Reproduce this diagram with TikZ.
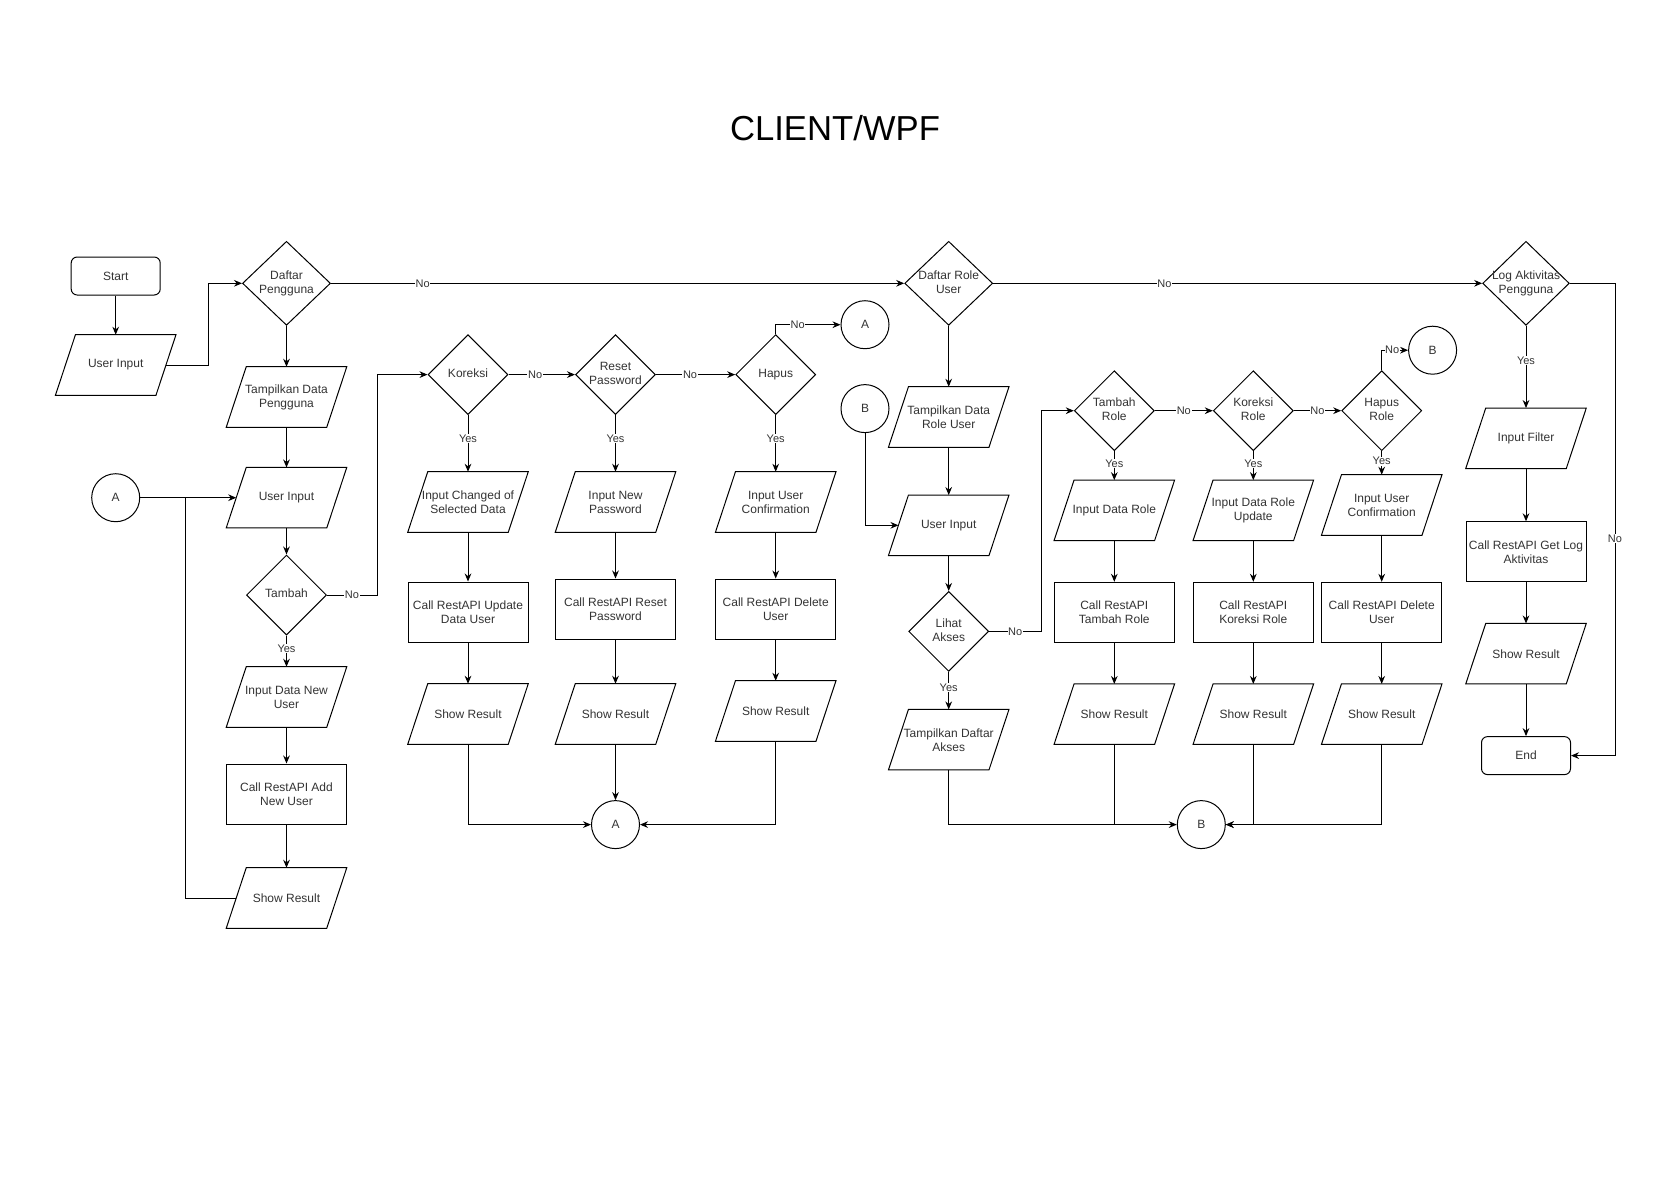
\documentclass[tikz,border=0pt]{standalone}
\usepackage{fontspec}
\setmainfont{Liberation Sans}
\usetikzlibrary{arrows.meta,shapes.geometric}
\definecolor{txtgray}{HTML}{333333}
\newcommand{\boxfont}{\fontsize{9}{10.5}\selectfont}
\newcommand{\edgefont}{\fontsize{8.25}{9.5}\selectfont}
\newcommand{\dtxt}[1]{\makebox[0pt]{\begin{tabular}{@{}c@{}}#1\end{tabular}}}

\begin{document}
\begin{tikzpicture}[x=0.75pt, y=-0.75pt,
    base/.style={draw, line width=0.75pt, font=\boxfont, text=txtgray, inner sep=2pt},
    term/.style={base, rectangle, rounded corners=4.5pt, minimum width=66.75pt, minimum height=28.5pt},
    io/.style={font=\boxfont, text=txtgray, inner sep=2pt, rectangle, align=center,
        minimum width=75pt, minimum height=45pt,
        append after command={\pgfextra{\draw[line width=0.75pt]
            ([xshift=7.5pt]\tikzlastnode.north west) -- ([xshift=7.5pt]\tikzlastnode.north east)
            -- ([xshift=-7.5pt]\tikzlastnode.south east) -- ([xshift=-7.5pt]\tikzlastnode.south west) -- cycle;}}},
    proc/.style={base, rectangle, minimum width=90pt, minimum height=45pt, align=center},
    decide/.style={base, diamond, inner sep=0pt, minimum width=60pt, minimum height=60pt},
    conn/.style={base, circle, inner sep=0pt, minimum size=36pt},
    arr/.style={line width=0.75pt, -{Stealth[length=6pt,width=5pt]}},
    wire/.style={line width=0.75pt},
    lbl/.style={fill=white, font=\edgefont, text=txtgray, inner sep=0.5pt}]
    \useasboundingbox (0,0) rectangle (1664,1179);

    % judul
    \node[font=\fontsize{26}{30}\selectfont] (judul) at (835,128) {CLIENT/WPF};

    % daftar pengguna
    \node[term] (start) at (115.7,276) {Start};
    \node[io] (ui1) at (115.7,365) {User Input};
    \node[decide, minimum width=66pt, minimum height=63pt] (dp) at (286.5,283.3) {\dtxt{Daftar\\Pengguna}};
    \node[io] (tdp) at (286.5,397) {Tampilkan Data\\Pengguna};
    \node[io] (ui2) at (286.5,497.7) {User Input};
    \node[decide] (tmb) at (286.5,595) {\dtxt{Tambah}};
    \node[io] (idnu) at (286.5,697) {Input Data New\\User};
    \node[proc] (cadd) at (286.5,794) {Call RestAPI Add\\New User};
    \node[io] (sr1) at (286.5,898) {Show Result};
    \node[conn] (aL) at (115.7,497.7) {A};
    \coordinate (jA) at (185.7,497.7);

    \node[decide] (kor) at (468,374.6) {\dtxt{Koreksi}};
    \node[decide] (rp) at (615.5,374.6) {\dtxt{Reset\\Password}};
    \node[decide] (hap) at (775.7,374.6) {\dtxt{Hapus}};
    \node[io] (ics) at (468,502) {Input Changed of\\Selected Data};
    \node[io] (inp) at (615.5,502) {Input New\\Password};
    \node[io] (iuc) at (775.7,502) {Input User\\Confirmation};
    \node[proc] (cu) at (468,612) {Call RestAPI Update\\Data User};
    \node[proc] (crp) at (615.5,609) {Call RestAPI Reset\\Password};
    \node[proc] (cdu) at (775.7,609) {Call RestAPI Delete\\User};
    \node[io] (srk) at (468,714) {Show Result};
    \node[io] (srr) at (615.5,714) {Show Result};
    \node[io] (srh) at (775.7,711) {Show Result};
    \node[conn] (aB) at (615.5,824.6) {A};
    \node[conn] (aT) at (865,324.7) {A};

    % daftar role user
    \node[decide, minimum width=66pt, minimum height=63pt] (dru) at (948.7,283.3) {\dtxt{Daftar Role\\User}};
    \node[io] (tdr) at (948.7,417) {Tampilkan Data\\Role User};
    \node[io] (ui3) at (948.7,525.3) {User Input};
    \node[decide] (lih) at (948.7,631.4) {\dtxt{Lihat\\Akses}};
    \node[io] (tda) at (948.7,739.7) {Tampilkan Daftar\\Akses};
    \node[conn] (bT) at (865,408.6) {B};

    \node[decide] (tr) at (1114.3,410.7) {\dtxt{Tambah\\Role}};
    \node[decide] (kr) at (1253.3,410.7) {\dtxt{Koreksi\\Role}};
    \node[decide] (hr) at (1381.7,410.7) {\dtxt{Hapus\\Role}};
    \node[io] (idr) at (1114.3,510.4) {Input Data Role};
    \node[io] (idru) at (1253.3,510.4) {Input Data Role\\Update};
    \node[io] (iuc2) at (1381.7,505) {Input User\\Confirmation};
    \node[proc] (ctr) at (1114.3,612.3) {Call RestAPI\\Tambah Role};
    \node[proc] (ckr) at (1253.3,612.3) {Call RestAPI\\Koreksi Role};
    \node[proc] (cdr) at (1381.7,612.3) {Call RestAPI Delete\\User};
    \node[io] (srtr) at (1114.3,714.2) {Show Result};
    \node[io] (srkr) at (1253.3,714.2) {Show Result};
    \node[io] (srhr) at (1381.7,714.2) {Show Result};
    \node[conn] (bB) at (1201.3,824.6) {B};
    \node[conn] (bR) at (1432.6,350.2) {B};

    % log aktivitas
    \node[decide, minimum width=65pt, minimum height=63pt] (log) at (1526,283.3) {\dtxt{Log Aktivitas\\Pengguna}};
    \node[io] (ifl) at (1526,438.3) {Input Filter};
    \node[proc] (cgl) at (1526,551.8) {Call RestAPI Get Log\\Aktivitas};
    \node[io] (srl) at (1526,653.7) {Show Result};
    \node[term] (fin) at (1526,755.6) {End};
    \coordinate (nolog) at (1615,755.6);

    % panah lurus
    \foreach \a/\b in {start/ui1, dp/tdp, tdp/ui2, ui2/tmb, idnu/cadd, cadd/sr1,
        ics/cu, cu/srk, inp/crp, crp/srr, iuc/cdu, cdu/srh,
        dru/tdr, tdr/ui3, ui3/lih, idr/ctr, ctr/srtr, idru/ckr, ckr/srkr,
        iuc2/cdr, cdr/srhr, ifl/cgl, cgl/srl, srl/fin}
        \draw[arr] (\a.south) -- (\b.north);
    % cabang Yes
    \foreach \a/\b in {tmb/idnu, kor/ics, rp/inp, hap/iuc, lih/tda, tr/idr, kr/idru, hr/iuc2, log/ifl}
        \draw[arr] (\a.south) -- node[lbl, pos=.42]{Yes} (\b.north);

    % cabang No
    \draw[arr] (ui1.east) -- ++(43,0) |- (dp.west);
    \draw[arr] (dp.east) -- node[lbl, pos=.16]{No} (dru.west);
    \draw[arr] (dru.east) -- node[lbl, pos=.35]{No} (log.west);
    \draw[arr] (log.east) -| node[lbl, pos=.77]{No} (nolog) -- (fin.east);

    \draw[arr] (aL.east) -- (ui2.west);
    \draw[wire] (sr1.west) -| (jA);
    \draw[arr] (tmb.east) -- node[lbl]{No} ++(50,0) |- (kor.west);
    \draw[arr] (kor.east) -- node[lbl, pos=.4]{No} (rp.west);
    \draw[arr] (rp.east) -- node[lbl, pos=.43]{No} (hap.west);
    \draw[arr] (hap.north) |- node[lbl, pos=.67]{No} (aT.west);
    \draw[arr] (srk.south) |- (aB.west);
    \draw[arr] (srr.south) -- (aB.north);
    \draw[arr] (srh.south) |- (aB.east);

    \draw[arr] (bT.south) |- (ui3.west);
    \draw[arr] (lih.east) -- node[lbl]{No} ++(52,0) |- (tr.west);
    \draw[arr] (tr.east) -- node[lbl]{No} (kr.west);
    \draw[arr] (kr.east) -- node[lbl]{No} (hr.west);
    \draw[arr] (hr.north) |- node[lbl, pos=.7]{No} (bR.west);
    \draw[arr] (tda.south) |- (bB.west);
    \draw[wire] (srtr.south) -- (srtr.south |- bB.west);
    \draw[arr] (srkr.south) |- (bB.east);
    \draw[arr] (srhr.south) |- (bB.east);
\end{tikzpicture}
\end{document}
